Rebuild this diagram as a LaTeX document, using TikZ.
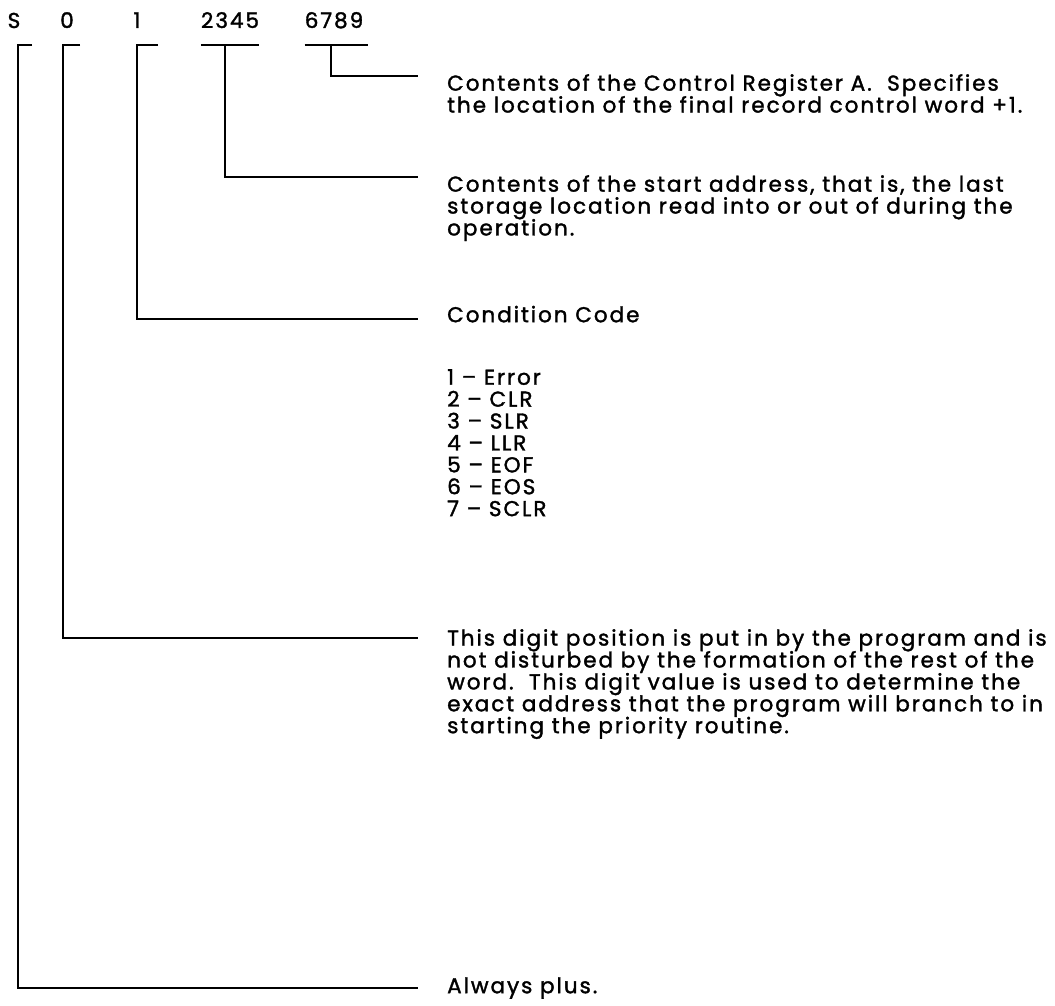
\documentclass[tikz,border=0pt]{standalone}
\usepackage{fontspec}
\setmainfont[LetterSpace=9.2, FakeBold=1.6]{Poppins}
\usetikzlibrary{positioning,calc}
\lineskiplimit=-50pt

\begin{document}
\begin{tikzpicture}[x=1pt, y=-1pt,
	   font={\fontsize{21.5}{21.9}\selectfont},
	   dig/.style={inner sep=0pt, anchor=base},
	   txt/.style={anchor=north west, align=left, inner sep=0pt,
	     execute at begin node={\rule{0pt}{18pt}}},
	   br/.style={line width=2.8pt}]
	  \useasboundingbox (0,0) rectangle (1055,1006);
	  % digit positions of the word
	  \node[dig] (lS) at (14,28) {S};
	  \node[dig] (l0) at (67,28) {0};
	  \node[dig] (l1) at (137,28) {1};
	  \node[dig] (l2345) at (230,28) {2345};
	  \node[dig] (l6789) at (334,28) {6789};
	  \coordinate (kS) at (18,45);
	  \coordinate (k0) at (63,45);
	  \coordinate (k1) at (137,45);
	  \coordinate (k2345) at (225,45);
	  \coordinate (k6789) at (331,45);
	  % what each position holds
	  \node[txt] (dA) at (447,74) {Contents of the Control Register A.\ \ Specifies\\the location of the final record control word +1.};
	  \node[txt] (dB) at (447,175) {Contents of the start address, that is, the last\\storage location read into or out of during the\\operation.};
	  \node[txt] (dC) at (447,304) {Condition Code};
	  \node[txt] (codes) at (447,369) {1 -- Error\\2 -- CLR\\3 -- SLR\\4 -- LLR\\5 -- EOF\\6 -- EOS\\7 -- SCLR};
	  \node[txt] (dD) at (447,629) {This digit position is put in by the program and is\\not disturbed by the formation of the rest of the\\word.\ \ This digit value is used to determine the\\exact address that the program will branch to in\\starting the priority routine.};
	  \node[txt] (dE) at (447,975) {Always plus.};
	  % brackets
	  \draw[br] ([xshift=14pt]kS) -- (kS) |- ([shift={(-29,13)}]dE.north west);
	  \draw[br] ([xshift=17pt]k0) -- (k0) |- ([shift={(-29,9)}]dD.north west);
	  \draw[br] ([xshift=21pt]k1) -- (k1) |- ([shift={(-29,15)}]dC.north west);
	  \draw[br] (l2345.west |- k2345) -- (l2345.east |- k2345);
	  \draw[br] (k2345) |- ([shift={(-29,2)}]dB.north west);
	  \draw[br] (l6789.west |- k6789) -- ([xshift=5pt]l6789.east |- k6789);
	  \draw[br] (k6789) |- ([shift={(-29,2)}]dA.north west);
	\end{tikzpicture}
\end{document}
